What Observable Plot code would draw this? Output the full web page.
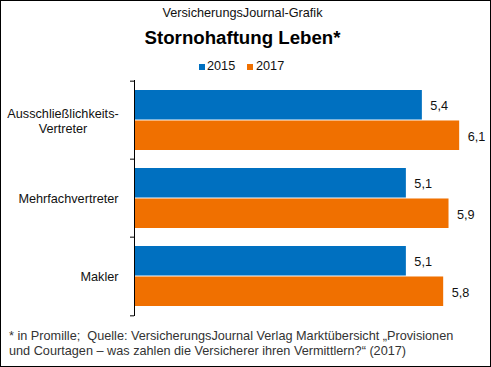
<!DOCTYPE html>
<html>
<head>
<meta charset="utf-8">
<script src="https://cdn.jsdelivr.net/npm/d3@7"></script>
<script src="https://cdn.jsdelivr.net/npm/@observablehq/plot@0.6"></script>
<style>
  html, body { margin: 0; padding: 0; background: #fff; }
  #page { position: relative; width: 491px; height: 367px; background: #fff; font-family: "Liberation Sans", Arial, sans-serif; overflow: hidden; }
  #border { position: absolute; left: 0; top: 0; width: 491px; height: 367px; box-sizing: border-box; border: 1px solid #000; pointer-events: none; }
  .abs { position: absolute; white-space: pre; }
  #sub { left: 0; width: 485px; text-align: center; top: 6px; font-size: 12.7px; line-height: 14.19px; color: #111; }
  #title { left: 0; width: 485px; text-align: center; top: 27.6px; font-size: 18.67px; line-height: 20.85px; font-weight: bold; color: #000; }
  #chart { position: absolute; left: 0; top: 72px; }
  .sw { position: absolute; width: 6px; height: 6px; }
  .lt { position: absolute; font-size: 12.7px; line-height: 14.19px; top: 59px; color: #111; }
  #caption { left: 9px; top: 329.3px; font-size: 12.7px; line-height: 14.7px; color: #333; }
</style>
</head>
<body>
<div id="page">
  <div id="sub" class="abs">VersicherungsJournal-Grafik</div>
  <div id="title" class="abs">Stornohaftung Leben*</div>
  <div id="legend"></div>
  <div id="chart"></div>
  <div id="caption" class="abs"></div>
  <div id="border"></div>
</div>
<script>
// ---- data ----
const categories = ["Ausschließlichkeits-\nVertreter", "Mehrfachvertreter", "Makler"];
const years = ["2015", "2017"];
const values2015 = [5.4, 5.1, 5.1];
const values2017 = [6.1, 5.9, 5.8];
const colors = ["#0070C0", "#F07000"];
const captionLines = [
  "* in Promille;  Quelle: VersicherungsJournal Verlag Marktübersicht „Provisionen",
  "und Courtagen – was zahlen die Versicherer ihren Vermittlern?“ (2017)"
];

const data = categories.flatMap((c, i) => [
  {category: c, year: years[0], value: values2015[i]},
  {category: c, year: years[1], value: values2017[i]}
]);

// ---- layout ----
const H = 252, mTop = 8, mBottom = 8;
const pInner = 0.225, pOuter = pInner / 2;
const plotH = H - mTop - mBottom;
const step = plotH / (categories.length - pInner + 2 * pOuter);
const bw = step * (1 - pInner);
const fmt = v => v.toFixed(1).replace(".", ",");

const chart = Plot.plot({
  width: 491,
  height: H,
  marginTop: mTop,
  marginBottom: mBottom,
  marginLeft: 134,
  marginRight: 10.5,
  style: {fontFamily: "'Liberation Sans', Arial, sans-serif", fontSize: "12.7px", background: "transparent", overflow: "visible"},
  x: {domain: [0, 6.5], axis: null},
  y: {domain: categories, paddingInner: pInner, paddingOuter: pOuter, axis: null},
  color: {domain: years, range: colors},
  marks: [
    Plot.barX(data.filter(d => d.year === years[0]), {y: "category", x: "value", fill: "year", insetBottom: bw / 2}),
    Plot.barX(data.filter(d => d.year === years[1]), {y: "category", x: "value", fill: "year", insetTop: bw / 2}),
    Plot.ruleX([0], {stroke: "#000", strokeWidth: 1}),
    Plot.axisY({tickSize: 4, fill: "none", stroke: "#000", dy: -step / 2}),
    Plot.axisY([categories[categories.length - 1]], {tickSize: 4, fill: "none", stroke: "#000", dy: step / 2}),
    Plot.text(categories.filter(c => !c.includes("\n")), {y: d => d, frameAnchor: "left", dx: -16, textAnchor: "end", fill: "#111"}),
    Plot.text(categories.filter(c => c.includes("\n")), {y: d => d, frameAnchor: "left", dx: -71.5, textAnchor: "middle", lineHeight: 1.18, fill: "#111"}),
    Plot.text(data.filter(d => d.year === years[0]), {x: "value", y: "category", text: d => fmt(d.value), dx: 8, dy: -bw / 4 + 1, textAnchor: "start", fill: "#111"}),
    Plot.text(data.filter(d => d.year === years[1]), {x: "value", y: "category", text: d => fmt(d.value), dx: 8, dy: bw / 4 + 1, textAnchor: "start", fill: "#111"})
  ]
});
document.getElementById("chart").appendChild(chart);

// ---- legend ----
const legend = document.getElementById("legend");
const legendPos = [{sw: 199, tx: 207}, {sw: 247, tx: 256}];
years.forEach((y, i) => {
  const s = document.createElement("div");
  s.className = "sw";
  s.style.left = legendPos[i].sw + "px";
  s.style.top = "64px";
  s.style.background = colors[i];
  legend.appendChild(s);
  const t = document.createElement("div");
  t.className = "lt";
  t.style.left = legendPos[i].tx + "px";
  t.textContent = y;
  legend.appendChild(t);
});

document.getElementById("caption").textContent = captionLines.join("\n");
</script>
</body>
</html>
